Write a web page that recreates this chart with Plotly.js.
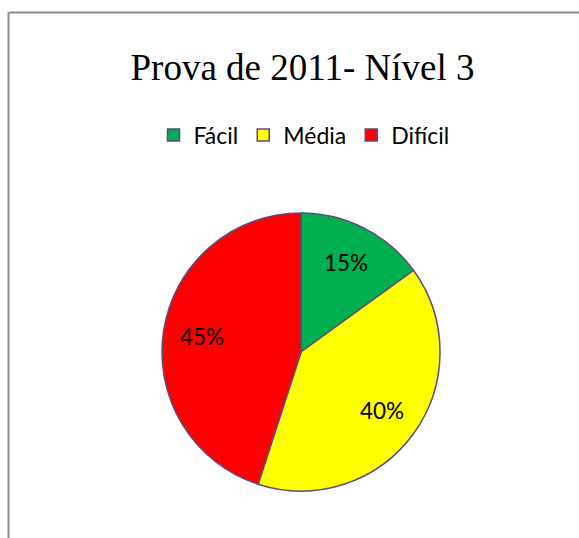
<!DOCTYPE html>
<html>
<head>
<meta charset="utf-8">
<script src="https://cdn.plot.ly/plotly-3.0.1.min.js"></script>
<style>html,body{margin:0;padding:0;background:#fff}#chart{width:579px;height:538px}</style>
</head>
<body>
<div id="chart"></div>
<script>
var labels = ["Fácil", "Média", "Difícil"];
var values = [15, 40, 45];
var colors = ["#00B050", "#FFFF00", "#FF0000"];
var W = 579, H = 538;
function px(x){return x / W;}
function py(y){return 1 - y / H;}

// pie geometry (pixels)
var CX = 301, CY = 352, R = 139;
var LABEL_R = 0.72;

var trace = {
  type: "pie",
  labels: labels,
  values: values,
  sort: false,
  direction: "clockwise",
  rotation: 0,
  marker: {colors: colors, line: {color: "#604A7B", width: 1.5}},
  textinfo: "none",
  hoverinfo: "label+percent",
  domain: {x: [px(CX - R), px(CX + R)], y: [py(CY + R), py(CY - R)]}
};

// percent labels computed from the values (mid-angle of each slice)
var total = values.reduce(function(a, b){return a + b;}, 0);
var annotations = [];
var acc = 0;
values.forEach(function(v){
  var mid = (acc + v / 2) / total * 2 * Math.PI;
  acc += v;
  var lx = CX + LABEL_R * R * Math.sin(mid);
  var ly = CY - LABEL_R * R * Math.cos(mid);
  annotations.push({
    xref: "paper", yref: "paper", x: px(lx), y: py(ly),
    xanchor: "center", yanchor: "middle", showarrow: false,
    text: Math.round(v / total * 100) + "%",
    font: {family: "Lato, 'Open Sans', sans-serif", size: 22.5, color: "#000"}
  });
});

var layout = {
  width: W, height: H,
  margin: {l: 0, r: 0, t: 0, b: 0},
  paper_bgcolor: "#fff",
  showlegend: true,
  title: {
    text: "Prova de 2011- Nível 3",
    font: {family: "'Liberation Serif', 'Times New Roman', serif", size: 37, color: "#000"},
    x: px(302.5), xanchor: "center",
    y: py(67), yanchor: "middle"
  },
  legend: {
    orientation: "h",
    x: px(304), xanchor: "center",
    y: py(135), yanchor: "middle",
    font: {family: "Lato, 'Open Sans', sans-serif", size: 23, color: "#000"},
    itemwidth: 30,
    traceorder: "normal"
  },
  annotations: annotations,
  shapes: [
    {type: "line", xref: "paper", yref: "paper", x0: px(8.5), x1: 1.01, y0: py(12.5), y1: py(12.5), line: {color: "#8c8c8c", width: 2}},
    {type: "line", xref: "paper", yref: "paper", x0: px(8.5), x1: px(8.5), y0: py(12.5), y1: -0.01, line: {color: "#8c8c8c", width: 2}}
  ]
};

Plotly.newPlot("chart", [trace], layout, {displayModeBar: false, staticPlot: true});
</script>
</body>
</html>
